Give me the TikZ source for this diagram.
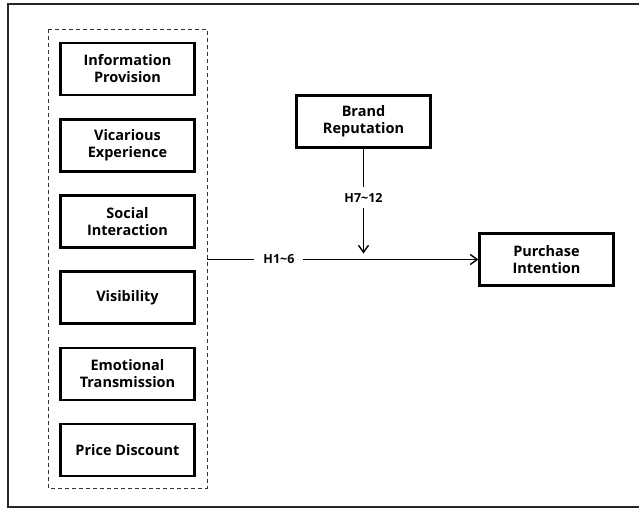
\documentclass[tikz,border=0pt]{standalone}
\usepackage{fontspec}
\setmainfont{Open Sans}
\usetikzlibrary{arrows.meta}
\begin{document}
\begin{tikzpicture}[x=1pt,y=-1pt,
  var/.style={draw=black,line width=2.2pt,minimum width=134pt,minimum height=52pt,align=center,font=\fontsize{14.5}{17}\selectfont\bfseries,inner sep=0pt},
  lbl/.style={fill=white,font=\fontsize{12.5}{14}\selectfont\bfseries,inner xsep=9pt,inner ysep=6pt},
  conn/.style={line width=1.4pt},
  tip/.style={-{Straight Barb[length=7pt,width=10pt,line width=1.4pt]}}]
\useasboundingbox (0,0) rectangle (639,508);
\draw[line width=1.4pt,black!85] (640,4) -- (8,4) -- (8,507) -- (640,507);
\draw[dashed,line width=0.7pt,black!80,dash pattern=on 4pt off 3pt] (48,29) rectangle (207,488);
\node[var] (ip) at (127.5,69) {Information\\Provision};
\node[var] (ve) at (127.5,145.5) {Vicarious\\Experience};
\node[var] (si) at (127.5,221.5) {Social\\Interaction};
\node[var] (vi) at (127.5,297.5) {Visibility};
\node[var] (et) at (127.5,374) {Emotional\\Transmission};
\node[var] (pd) at (127.5,450) {Price Discount};
\node[var] (br) at (363.5,121.5) {Brand\\Reputation};
\node[var] (pi) at (546.5,259.5) {Purchase\\Intention};
\coordinate (src) at (207,259.5);
\coordinate (mod) at (363.5,259.5);
\draw[conn,tip] (src) -- node[lbl,pos=0.265] {H1\textasciitilde 6} (pi.west);
\draw[conn,tip] (br.south) -- node[lbl,pos=0.47] {H7\textasciitilde 12} ([yshift=6pt]mod);
\end{tikzpicture}
\end{document}
